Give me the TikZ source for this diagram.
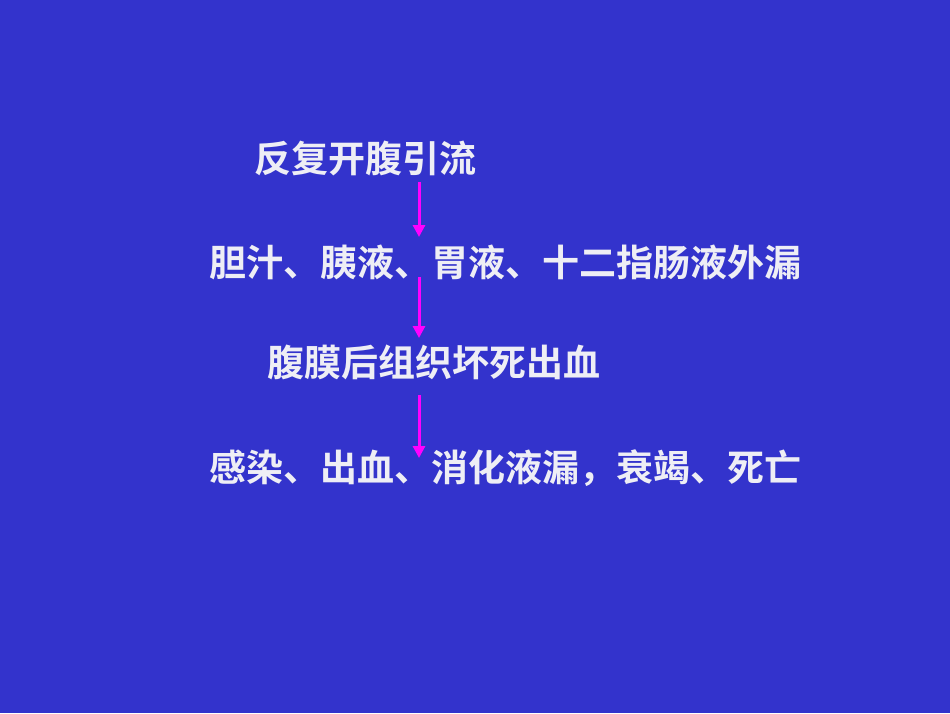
\documentclass[tikz,border=0pt]{standalone}
\usepackage{fontspec}
\newfontfamily\cjk{Noto Sans CJK SC Bold}
\usetikzlibrary{arrows.meta}
\definecolor{bg}{HTML}{3333CC}
\definecolor{txt}{HTML}{EEEEF5}
\definecolor{arr}{HTML}{FF00FF}
\tikzset{
  lbl/.style={anchor=west, inner sep=0pt, text=txt, font=\cjk\fontsize{37pt}{40pt}\selectfont},
  flow/.style={draw=arr, line width=3pt, -{Triangle[width=12pt,length=12pt]}}
}
\begin{document}
\begin{tikzpicture}[x=1pt,y=-1pt]
\fill[bg] (0,0) rectangle (950,713);
\useasboundingbox (0,0) rectangle (950,713);
\node[lbl] (l1) at (254,158) {反复开腹引流};
\node[lbl] (l2) at (209,262) {胆汁、胰液、胃液、十二指肠液外漏};
\node[lbl] (l3) at (267,362) {腹膜后组织坏死出血};
\node[lbl] (l4) at (209,468) {感染、出血、消化液漏，衰竭、死亡};
\coordinate (a1s) at (419,182);
\coordinate (a1e) at (419,237);
\coordinate (a2s) at (419,277);
\coordinate (a2e) at (419,338);
\coordinate (a3s) at (419,395);
\coordinate (a3e) at (419,458);
\draw[flow] (a1s) -- (a1e);
\draw[flow] (a2s) -- (a2e);
\draw[flow] (a3s) -- (a3e);
\end{tikzpicture}
\end{document}
